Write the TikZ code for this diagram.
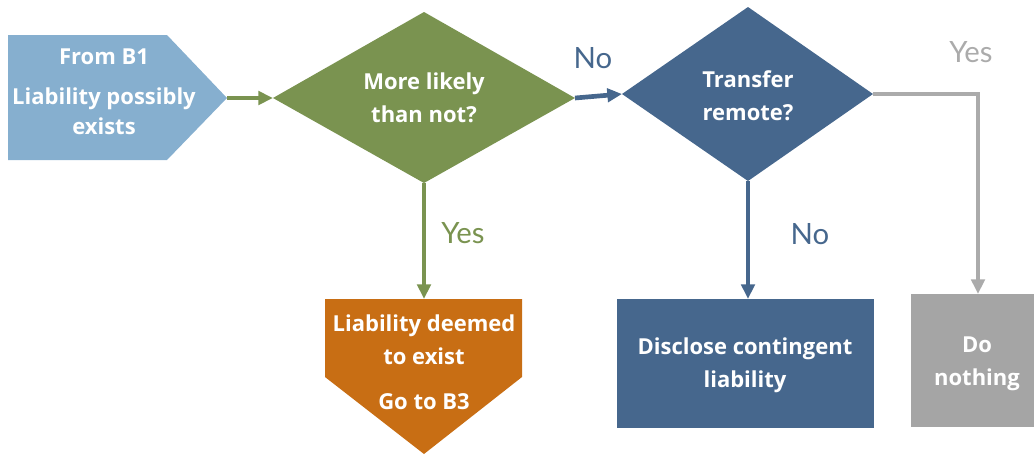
\documentclass[tikz,border=0pt]{standalone}
\usepackage{fontspec}
\setmainfont{Lato}
\newfontfamily\boxfont{Open Sans}
\usetikzlibrary{arrows.meta}
\definecolor{lblue}{HTML}{86AFCF}
\definecolor{dgreen}{HTML}{7A9350}
\definecolor{dblue}{HTML}{46678D}
\definecolor{mgray}{HTML}{A5A5A5}
\definecolor{lgray}{HTML}{ABABAB}
\definecolor{orng}{HTML}{C86E14}
\begin{document}
\begin{tikzpicture}[x=0.75pt,y=-0.75pt,
  lbl/.style={font=\boxfont\fontsize{16.5}{24.5}\selectfont\bfseries, text=white, align=center, inner sep=0pt},
  conn/.style={line width=3.5pt, -{Triangle[length=11pt,width=10pt]}},
  elabel/.style={font=\fontsize{22}{24}\selectfont, inner sep=0pt}]
\useasboundingbox (0,0) rectangle (1034,454);
% start pentagon
\fill[lblue] (8,35) -- (167,35) -- (227,98) -- (167,160) -- (8,160) -- cycle;
\coordinate (startR) at (227,98);
\node[lbl] (from) at (104,57) {From B1};
\node[lbl, font=\boxfont\fontsize{16.5}{22.5}\selectfont\bfseries] (poss) at (104,111) {Liability possibly\\exists};
% green diamond
\fill[dgreen] (273,98) -- (424,12) -- (575,98) -- (424,183) -- cycle;
\coordinate (gL) at (273,98);
\coordinate (gR) at (575,98);
\coordinate (gB) at (424,183);
\node[lbl] (gq) at (424,98) {More likely\\than not?};
% blue diamond
\fill[dblue] (622,94) -- (748,7) -- (873,94) -- (748,181) -- cycle;
\coordinate (bL) at (622,94);
\coordinate (bR) at (873,94);
\coordinate (bB) at (748,181);
\node[lbl] (bq) at (748,96) {Transfer\\remote?};
% orange pentagon down
\fill[orng] (325,299) -- (522,299) -- (522,377) -- (424,454) -- (325,377) -- cycle;
\coordinate (oT) at (424,299);
\node[lbl] (deem) at (424,340) {Liability deemed\\to exist};
\node[lbl] (go) at (424,402) {Go to B3};
% disclose box
\fill[dblue] (617,299) rectangle (874,428);
\coordinate (dT) at (748,299);
\node[lbl] (disc) at (745,365) {Disclose contingent\\liability};
% do nothing box
\fill[mgray] (911,294) rectangle (1034,427);
\coordinate (nT) at (978,294);
\node[lbl] (nothing) at (977,364) {Do\\nothing};
% connectors
\draw[conn, dgreen] (startR) -- (gL);
\draw[conn, dblue] (gR) -- (bL);
\draw[conn, dgreen] (gB) -- (oT);
\draw[conn, dblue] (bB) -- (dT);
\draw[conn, lgray] (bR) -| (nT);
% edge labels
\node[elabel, text=dblue] (no1) at (593,58) {No};
\node[elabel, text=dgreen] (yes1) at (463,233) {Yes};
\node[elabel, text=dblue] (no2) at (810,234) {No};
\node[elabel, text=lgray] (yes2) at (971,52) {Yes};
\end{tikzpicture}
\end{document}
